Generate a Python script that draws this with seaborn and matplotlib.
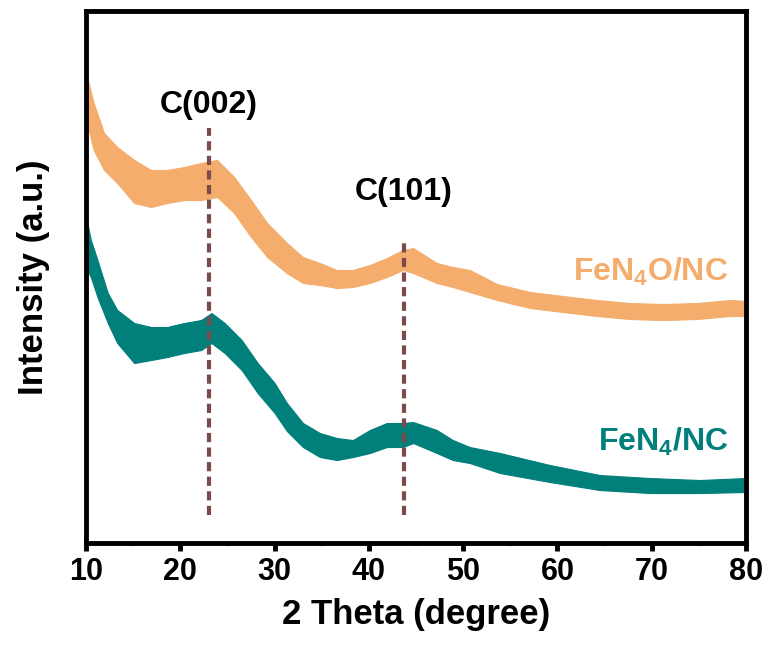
import pandas as pd
import matplotlib.pyplot as plt
import seaborn as sns

# XRD band envelopes (upper / lower edge of the noisy trace), a.u.
two_theta_o = [10.1, 10.8, 11.9, 13.3, 15.1, 16.9, 18.6, 20.4, 22.2, 23.9, 25.7, 27.5,
               29.2, 31.3, 33.0, 34.8, 36.6, 38.3, 40.1, 41.9, 43.6, 44.7, 47.2, 48.9,
               50.7, 53.6, 57.1, 60.6, 64.2, 67.7, 71.2, 74.8, 78.3, 80.0]
fen4o_upper = [466, 440, 410, 396, 383, 373, 373, 376, 380, 383, 366, 343,
               320, 300, 286, 280, 273, 273, 278, 285, 293, 295, 280, 276,
               273, 259, 251, 247, 243, 240, 239, 240, 243, 242]
fen4o_lower = [420, 393, 373, 360, 340, 336, 340, 343, 343, 346, 330, 306,
               286, 270, 260, 258, 255, 256, 260, 266, 273, 270, 260, 256,
               251, 243, 235, 231, 227, 224, 223, 224, 227, 227]

two_theta_t = [10.1, 10.5, 11.2, 12.3, 13.3, 15.1, 16.9, 18.6, 20.4, 22.2, 23.3, 24.7,
               26.5, 28.2, 30.0, 31.3, 33.0, 34.8, 36.6, 38.3, 40.1, 41.9, 43.6, 44.7,
               47.2, 48.9, 50.7, 53.9, 59.2, 64.5, 69.8, 75.1, 80.0]
fen4_upper = [321, 303, 283, 250, 233, 220, 216, 216, 220, 223, 230, 220,
              203, 180, 160, 140, 120, 110, 105, 103, 113, 120, 120, 121,
              113, 103, 96, 90, 78, 68, 65, 63, 65]
fen4_lower = [273, 266, 246, 220, 200, 180, 183, 186, 190, 193, 200, 190,
              173, 150, 130, 112, 96, 86, 83, 86, 90, 96, 96, 100,
              90, 83, 80, 70, 61, 53, 50, 50, 51]

samples = ['FeN4O/NC', 'FeN4/NC']
sample_labels = [r'FeN$_{\bf 4}$O/NC', r'FeN$_{\bf 4}$/NC']
colors = ['#F4AD6C', '#007F7B']

peak_names = ['C(002)', 'C(101)']
peak_pos = [23.0, 43.7]
peak_top = [415, 303]

# long-form table: two rows (upper/lower) per angle, lineplot draws min-max band + mean line
rows = []
for x, u, l in zip(two_theta_o, fen4o_upper, fen4o_lower):
    rows += [(x, u, samples[0]), (x, l, samples[0])]
for x, u, l in zip(two_theta_t, fen4_upper, fen4_lower):
    rows += [(x, u, samples[1]), (x, l, samples[1])]
df = pd.DataFrame(rows, columns=['2theta', 'intensity', 'sample'])

sns.set_style('white')
plt.rcParams['font.family'] = ['Liberation Sans', 'DejaVu Sans']
plt.rcParams['font.weight'] = 'bold'
plt.rcParams['text.color'] = 'black'
plt.rcParams['axes.labelcolor'] = 'black'
plt.rcParams['xtick.color'] = 'black'
plt.rcParams['mathtext.fontset'] = 'custom'
plt.rcParams['mathtext.bf'] = 'Liberation Sans:bold'
plt.rcParams['mathtext.rm'] = 'Liberation Sans:bold'

fig = plt.figure(figsize=(7.69, 6.48), dpi=100)
ax = fig.add_axes([0.112, 0.162, 0.858, 0.821])

sns.lineplot(data=df, x='2theta', y='intensity', hue='sample', palette=colors,
             hue_order=samples, estimator='mean', errorbar=('pi', 100),
             err_kws={'alpha': 1, 'linewidth': 0.8}, linewidth=1.5, legend=False, ax=ax)

# reference peak positions
ax.vlines(peak_pos, 28, peak_top, colors='#7B4A4A', linewidth=3.0,
          linestyles=(0, (2.2, 1.3)))
ax.text(peak_pos[0], 438, peak_names[0], ha='center', va='center', fontsize=23, fontweight='bold')
ax.text(peak_pos[1], 351, peak_names[1], ha='center', va='center', fontsize=23, fontweight='bold')

ax.text(78.1, 271, sample_labels[0], color=colors[0], ha='right', va='center',
        fontsize=23, fontweight='bold')
ax.text(78.1, 101, sample_labels[1], color=colors[1], ha='right', va='center',
        fontsize=23, fontweight='bold')

ax.set_xlim(10, 80)
ax.set_ylim(0, 532)
ax.set_xticks(range(10, 81, 10))
ax.set_xticks(range(15, 80, 10), minor=True)
ax.set_yticks([])
ax.tick_params(axis='x', which='major', direction='out', length=6, width=3.5,
               labelsize=22, pad=4, bottom=True, colors='black')
ax.tick_params(axis='x', which='minor', direction='out', length=2.5, width=3, bottom=True)
for lab in ax.get_xticklabels():
    lab.set_fontweight('bold')
for s in ax.spines.values():
    s.set_linewidth(3.5)
    s.set_color('black')

ax.set_xlabel('2 Theta (degree)', fontsize=25, fontweight='bold', labelpad=8)
ax.set_ylabel('Intensity (a.u.)', fontsize=25, fontweight='bold', labelpad=26)

fig.savefig('out.png', dpi=100)
